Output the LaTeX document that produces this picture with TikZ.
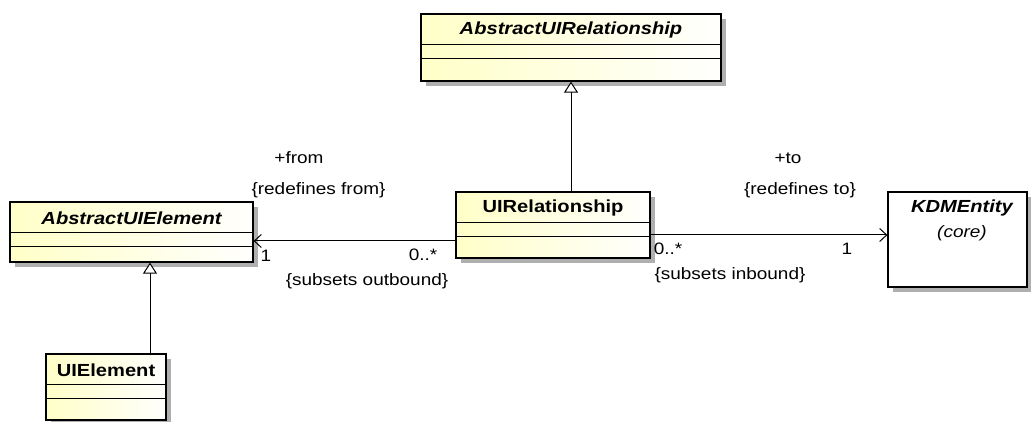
\documentclass[tikz,border=0pt]{standalone}
\usepackage{fontspec}
\setmainfont{Liberation Sans}
\newfontfamily\umlfont[FakeStretch=1.15]{Liberation Sans}
\usetikzlibrary{arrows.meta, positioning, calc, shadows}

\definecolor{classfill}{RGB}{255,255,200}
\definecolor{shadowgray}{RGB}{175,175,175}

\tikzset{
  classbox/.style={draw, line width=1.2pt, inner sep=0pt,
    left color=classfill, right color=white!97!classfill,
    drop shadow={shadow xshift=5pt, shadow yshift=-5pt, fill=shadowgray, opacity=1}},
  plainbox/.style={classbox, left color=white, right color=white},
  classname/.style={font=\umlfont\fontsize{17.5}{20}\selectfont\bfseries},
  absname/.style={font=\umlfont\fontsize{17.5}{20}\selectfont\bfseries\itshape},
  lbl/.style={font=\umlfont\fontsize{16.5}{19}\selectfont, inner sep=1pt},
  gen/.style={line width=1pt, -{Triangle[open, width=14pt, length=11pt, fill=white]}},
  assoc/.style={line width=1pt, -{Straight Barb[length=7pt, width=13pt]}}
}

\begin{document}
\begin{tikzpicture}[x=1pt, y=-1pt]
  \useasboundingbox (0,0) rectangle (1031,422);

  % classes
  \node[classbox, minimum width=300pt, minimum height=67pt] (absrel) at (571,47.5) {};
  \node[classbox, minimum width=243pt, minimum height=60pt] (abselem) at (131.5,232) {};
  \node[classbox, minimum width=194pt, minimum height=66pt] (uirel) at (553,225) {};
  \node[classbox, minimum width=120pt, minimum height=66pt] (uielem) at (106,387) {};
  \node[plainbox, minimum width=139pt, minimum height=95pt] (kdm) at (957.5,239.5) {};

  \node[absname] (absrelname) at (571,30) {AbstractUIRelationship};
  \node[absname] (abselemname) at (131.5,218) {AbstractUIElement};
  \node[classname] (uirelname) at (553,208) {UIRelationship};
  \node[classname] (uielemname) at (106,370) {UIElement};
  \node[absname] (kdmname) at (962,208) {KDMEntity};
  \node[font=\umlfont\fontsize{16.5}{19}\selectfont\itshape] (kdmpkg) at (962,233) {(core)};

  % compartments
  \foreach \c in {absrel, abselem, uirel, uielem} {
    \draw[line width=1pt] ($(\c.north west)+(0,31)$) -- ($(\c.north east)+(0,31)$);
    \draw[line width=1pt] ($(\c.north west)+(0,45)$) -- ($(\c.north east)+(0,45)$);
  }

  % generalizations
  \draw[gen] (uirel.north -| absrel.south) -- (absrel.south);
  \draw[gen] ([xshift=44pt]uielem.north) -- ([xshift=44pt]uielem.north |- abselem.south);

  % associations
  \draw[assoc] ([yshift=-16pt]uirel.west) -- ([yshift=-16pt]uirel.west -| abselem.east);
  \draw[assoc] ([yshift=-10pt]uirel.east) -- ([yshift=-10pt]uirel.east -| kdm.west);

  \node[lbl] (lblfrom) at (299,158) {+from};
  \node[lbl] (lblredeffrom) at (318.5,190) {\{redefines from\}};
  \node[lbl] (multfromone) at (266,256) {1};
  \node[lbl] (multfrommany) at (423,255) {0..*};
  \node[lbl] (lblsubout) at (367,281) {\{subsets outbound\}};

  \node[lbl] (lblto) at (788,158) {+to};
  \node[lbl] (lblredefto) at (800,190) {\{redefines to\}};
  \node[lbl] (multtomany) at (668,249) {0..*};
  \node[lbl] (multtoone) at (847,249) {1};
  \node[lbl] (lblsubin) at (730,275) {\{subsets inbound\}};
\end{tikzpicture}
\end{document}
